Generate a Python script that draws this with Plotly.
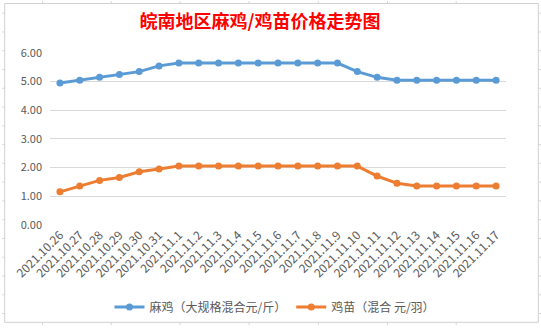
import plotly.graph_objects as go

categories = ["2021.10.26", "2021.10.27", "2021.10.28", "2021.10.29", "2021.10.30", "2021.10.31",
              "2021.11.1", "2021.11.2", "2021.11.3", "2021.11.4", "2021.11.5", "2021.11.6",
              "2021.11.7", "2021.11.8", "2021.11.9", "2021.11.10", "2021.11.11", "2021.11.12",
              "2021.11.13", "2021.11.14", "2021.11.15", "2021.11.16", "2021.11.17"]
maji_name = "麻鸡（大规格混合元/斤）"
maji = [4.95, 5.05, 5.15, 5.25, 5.35, 5.55, 5.65, 5.65, 5.65, 5.65, 5.65, 5.65,
        5.65, 5.65, 5.65, 5.35, 5.15, 5.05, 5.05, 5.05, 5.05, 5.05, 5.05]
jimiao_name = "鸡苗（混合 元/羽）"
jimiao = [1.15, 1.35, 1.55, 1.65, 1.85, 1.95, 2.05, 2.05, 2.05, 2.05, 2.05, 2.05,
          2.05, 2.05, 2.05, 2.05, 1.70, 1.45, 1.35, 1.35, 1.35, 1.35, 1.35]
y_ticks = [0, 1, 2, 3, 4, 5, 6]
y_labels = ["0.00", "1.00", "2.00", "3.00", "4.00", "5.00", "6.00"]

W, H = 541, 329
L, R, T, B = 48, 506, 52.7, 227
FONT = "Noto Sans CJK SC, Microsoft YaHei, sans-serif"

fig = go.Figure()
fig.add_trace(go.Scatter(x=categories, y=maji, name=maji_name, mode="lines+markers",
                         line=dict(color="#5B9BD5", width=3),
                         marker=dict(color="#5B9BD5", size=7)))
fig.add_trace(go.Scatter(x=categories, y=jimiao, name=jimiao_name, mode="lines+markers",
                         line=dict(color="#ED7D31", width=3),
                         marker=dict(color="#ED7D31", size=7)))

def px(x):
    return (x - L) / (R - L)

def py(y):
    return (B - y) / (B - T)

shapes = []
grid_col = "#D6D6DE"
# spreadsheet grid stubs outside the chart
for gx in [40.5, 109.5, 178.5, 248, 317.5, 387, 456]:
    shapes.append(dict(type="line", xref="paper", yref="paper", x0=px(gx), x1=px(gx),
                       y0=py(0), y1=py(2.5), line=dict(color=grid_col, width=1), layer="below"))
    shapes.append(dict(type="line", xref="paper", yref="paper", x0=px(gx), x1=px(gx),
                       y0=py(326), y1=py(329), line=dict(color=grid_col, width=1), layer="below"))
gy = 12.3
while gy < 329:
    shapes.append(dict(type="line", xref="paper", yref="paper", x0=px(0), x1=px(2.5),
                       y0=py(gy), y1=py(gy), line=dict(color=grid_col, width=1), layer="below"))
    shapes.append(dict(type="line", xref="paper", yref="paper", x0=px(538.5), x1=px(541),
                       y0=py(gy), y1=py(gy), line=dict(color=grid_col, width=1), layer="below"))
    gy += 19.05
# chart border
shapes.append(dict(type="rect", xref="paper", yref="paper", x0=px(2.5), x1=px(538.5),
                   y0=py(326), y1=py(2.5), line=dict(color="#D0D0D0", width=1), layer="below"))

fig.update_layout(
    width=W, height=H,
    margin=dict(l=L, r=W - R, t=T, b=H - B),
    paper_bgcolor="white", plot_bgcolor="white",
    font=dict(family=FONT, color="#595959", size=11),
    title=dict(text="<b>皖南地区麻鸡/鸡苗价格走势图</b>", x=260 / W, xanchor="center",
               y=1 - 22 / H, yanchor="middle", yref="container",
               font=dict(family=FONT, color="#FF0000", size=18)),
    showlegend=True,
    legend=dict(orientation="h", xref="container", x=275 / W, xanchor="center",
                yref="container", y=1 - 307 / H, yanchor="middle",
                font=dict(family=FONT, size=12, color="#595959"),
                itemwidth=30, tracegroupgap=0, bgcolor="rgba(0,0,0,0)"),
    xaxis=dict(type="category", range=[-0.5, len(categories) - 0.5], tickangle=-45,
               showgrid=False, showline=False, zeroline=False, ticks="",
               tickfont=dict(family=FONT, size=12, color="#595959")),
    yaxis=dict(range=[0, 6], tickvals=y_ticks, ticktext=y_labels, showgrid=True,
               gridcolor="#D9D9D9", gridwidth=1, zeroline=False, showline=False, ticks="",
               ticklabelstandoff=7,
               tickfont=dict(family=FONT, size=11, color="#595959")),
    shapes=shapes,
)
fig.write_html("out.html")
